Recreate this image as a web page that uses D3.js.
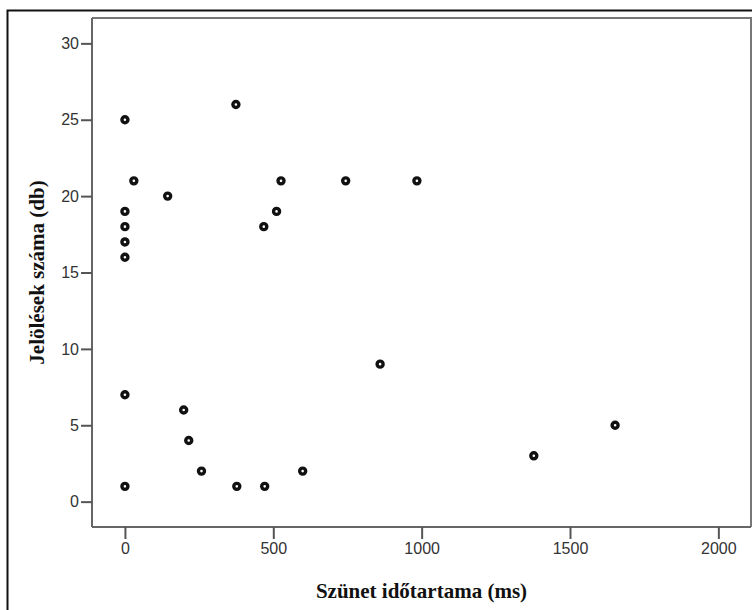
<!DOCTYPE html>
<html>
<head>
<meta charset="utf-8">
<script src="https://cdn.jsdelivr.net/npm/d3@7"></script>
<style>
  html, body { margin: 0; padding: 0; background: #fff; }
  svg { display: block; }
</style>
</head>
<body>
<svg id="chart" width="752" height="610"></svg>
<script>
// Pause duration (ms) and number of markings (db) per item
const pauseMs   = [0, 374, 30, 144, 0, 0, 0, 0, 468, 511, 526, 744, 984, 860, 0, 198, 215, 258, 377, 471, 599, 0, 1378, 1652];
const markCount = [25, 26, 21, 20, 19, 18, 17, 16, 18, 19, 21, 21, 21, 9, 7, 6, 4, 2, 1, 1, 2, 1, 3, 5];

const xTicks = [0, 500, 1000, 1500, 2000];
const yTicks = [0, 5, 10, 15, 20, 25, 30];

const xTitle = "Szünet időtartama (ms)";
const yTitle = "Jelölések száma (db)";

const svg = d3.select("#chart");
const plot = { left: 92, top: 18, right: 751, bottom: 527 };

const x = d3.scaleLinear().domain([-111, 2110]).range([plot.left, plot.right]);
const y = d3.scaleLinear().domain([-1.66, 31.66]).range([plot.bottom, plot.top]);

// outer frame
svg.append("rect")
  .attr("x", 7.5).attr("y", 10.5)
  .attr("width", 760).attr("height", 620)
  .attr("fill", "none").attr("stroke", "#111").attr("stroke-width", 2);

// plot frame (top and right edges)
svg.append("path")
  .attr("d", `M${plot.left},${plot.top}H${plot.right}V${plot.bottom}`)
  .attr("fill", "none").attr("stroke", "#777").attr("stroke-width", 2);

const tickFont = "'Liberation Sans', Arial, sans-serif";

const xAxis = svg.append("g")
  .attr("transform", `translate(0,${plot.bottom})`)
  .call(d3.axisBottom(x).tickValues(xTicks).tickFormat(d3.format("d"))
    .tickSize(12).tickSizeOuter(0).tickPadding(4));
const yAxis = svg.append("g")
  .attr("transform", `translate(${plot.left},0)`)
  .call(d3.axisLeft(y).tickValues(yTicks).tickFormat(d3.format("d"))
    .tickSize(11).tickSizeOuter(0).tickPadding(2));

[xAxis, yAxis].forEach(g => {
  g.select(".domain").attr("stroke", "#666").attr("stroke-width", 2);
  g.selectAll(".tick line").attr("stroke", "#555").attr("stroke-width", 2);
  g.selectAll(".tick text")
    .attr("fill", "#333")
    .style("font-family", tickFont)
    .style("font-size", "16px");
});
// extend the axis lines to the plot corners
xAxis.select(".domain").attr("d", `M${plot.left},0H${plot.right}`);
yAxis.select(".domain").attr("d", `M0,${plot.top}V${plot.bottom}`);

// axis titles
svg.append("text")
  .attr("x", (plot.left + plot.right) / 2)
  .attr("y", 598)
  .attr("text-anchor", "middle")
  .style("font-family", "'Liberation Serif', 'Times New Roman', serif")
  .style("font-weight", "bold")
  .style("font-size", "21px")
  .attr("fill", "#111")
  .text(xTitle);

svg.append("text")
  .attr("transform", `translate(44,${(plot.top + plot.bottom) / 2}) rotate(-90)`)
  .attr("text-anchor", "middle")
  .style("font-family", "'Liberation Serif', 'Times New Roman', serif")
  .style("font-weight", "bold")
  .style("font-size", "21px")
  .attr("fill", "#111")
  .text(yTitle);

// points
svg.append("g")
  .selectAll("circle")
  .data(pauseMs.map((d, i) => ({ ms: d, n: markCount[i] })))
  .join("circle")
  .attr("cx", d => x(d.ms))
  .attr("cy", d => y(d.n))
  .attr("r", 3.0)
  .attr("fill", "#fff")
  .attr("stroke", "#111")
  .attr("stroke-width", 3.4);
</script>
</body>
</html>
